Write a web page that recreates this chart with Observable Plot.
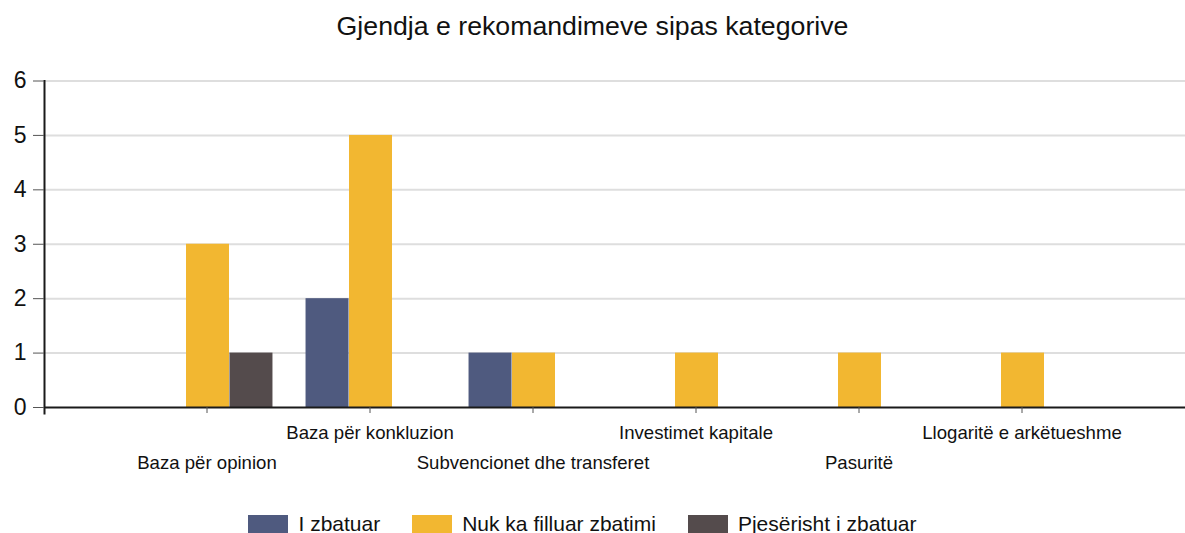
<!DOCTYPE html>
<html>
<head>
<meta charset="utf-8">
<script src="https://cdn.jsdelivr.net/npm/d3@7"></script>
<script src="https://cdn.jsdelivr.net/npm/@observablehq/plot@0.6"></script>
<style>
  html, body { margin: 0; padding: 0; background: #fff; }
  body { position: relative; width: 1185px; height: 533px; overflow: hidden; font-family: "Liberation Sans", Arial, sans-serif; color: #111; }
  #title { height: 50px; line-height: 52px; text-align: center; font-size: 26.7px; }
  #chart svg { display: block; }
  #legend { position: absolute; left: 0; right: 20px; top: 514px; height: 19px; display: flex; justify-content: center; align-items: center; font-size: 21px; line-height: 19px; }
  .item { display: flex; align-items: center; margin: 0 16px; }
  .sw { width: 40px; height: 18px; margin-right: 10px; }
</style>
</head>
<body>
<div id="title">Gjendja e rekomandimeve sipas kategorive</div>
<div id="chart"></div>
<div id="legend"></div>
<script>
const categories = ["Baza për opinion", "Baza për konkluzion", "Subvencionet dhe transferet", "Investimet kapitale", "Pasuritë", "Llogaritë e arkëtueshme"];
const seriesNames = ["I zbatuar", "Nuk ka filluar zbatimi", "Pjesërisht i zbatuar"];
const implemented = [0, 2, 1, 0, 0, 0];
const notStarted  = [3, 5, 1, 1, 1, 1];
const partial     = [1, 0, 0, 0, 0, 0];
const yTicks = [0, 1, 2, 3, 4, 5, 6];
const colors = ["#4f5a7f", "#f2b731", "#544b4c"];

const seriesValues = [implemented, notStarted, partial];
const rows = [];
seriesNames.forEach((s, si) => categories.forEach((c, ci) => rows.push({category: c, series: s, value: seriesValues[si][ci]})));

const W = 1185, mL = 44, mR = 0;
const step = (W - mL - mR) / 7;           // category spacing (axis occupies slot 0)
const barW = step * 0.8 / 3;
const pad = 1 - barW / step;

const upper = categories.filter((d, i) => i % 2 === 1);
const lower = categories.filter((d, i) => i % 2 === 0);

const marks = [
  Plot.gridY(yTicks.filter(d => d > 0), {stroke: "#dedede", strokeOpacity: 1, strokeWidth: 2}),
];
seriesNames.forEach((s, si) => {
  marks.push(Plot.barY(rows.filter(r => r.series === s), {
    x: "category", y: "value", fill: colors[si], dx: (si - 1) * barW + 1, insetLeft: 0, insetRight: 0
  }));
});
marks.push(
  Plot.ruleY([0], {stroke: "#1a1a1a", strokeWidth: 2}),
  Plot.frame({anchor: "left", stroke: "#1a1a1a", strokeWidth: 2, insetBottom: -6}),
  Plot.axisY({ticks: yTicks, tickSize: 11, tickPadding: 7, fontSize: 23, tickFormat: d3.format("d"), label: null, stroke: "#555", color: "#111"}),
  Plot.axisX({tickSize: 6, tickFormat: () => "", label: null, stroke: "#555"}),
  Plot.axisX({ticks: upper, tickSize: 0, tickPadding: 18, fontSize: 18.6, label: null, fill: "#111"}),
  Plot.axisX({ticks: lower, tickSize: 0, tickPadding: 48, fontSize: 18.6, label: null, fill: "#111"})
);

const chart = Plot.plot({
  width: W,
  height: 432,
  marginLeft: mL,
  marginRight: mR,
  marginTop: 30.5,
  marginBottom: 75,
  style: {fontFamily: "'Liberation Sans', Arial, sans-serif", background: "#fff", overflow: "visible"},
  x: {domain: categories, range: [mL + step / 2, W - mR - step / 2], paddingInner: pad, paddingOuter: pad / 2, label: null},
  y: {domain: [0, 6], label: null},
  marks
});
document.getElementById("chart").appendChild(chart);

const legend = document.getElementById("legend");
seriesNames.forEach((s, i) => {
  const it = document.createElement("div");
  it.className = "item";
  it.innerHTML = `<div class="sw" style="background:${colors[i]}"></div><span>${s}</span>`;
  legend.appendChild(it);
});
</script>
</body>
</html>
